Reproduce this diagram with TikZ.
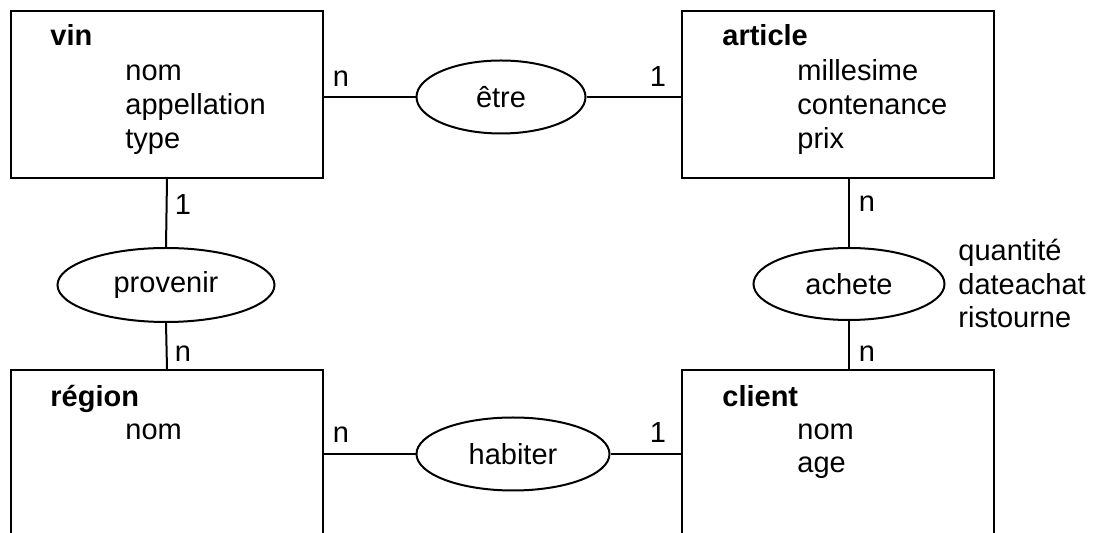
\documentclass[tikz,border=0pt]{standalone}
\usepackage{fontspec}
\setmainfont{Liberation Sans}
\usetikzlibrary{shapes.geometric}
\begin{document}
\begin{tikzpicture}[x=0.5pt,y=-0.5pt,
  font=\fontsize{14.5pt}{17pt}\selectfont,
  entity/.style={draw, line width=1pt, rectangle, inner sep=0pt, anchor=north west, minimum width=156pt},
  rel/.style={draw, ellipse, line width=1pt, inner sep=0pt},
  card/.style={anchor=base, inner sep=0pt},
  txt/.style={anchor=base west, inner sep=0pt},
  link/.style={line width=1pt}]
\path[clip] (0,0) rectangle (1093,533);
% entities
\node[entity, minimum height=83.5pt] (vin) at (10,10) {};
\node[entity, minimum height=83.5pt] (article) at (681,10) {};
\node[entity, minimum height=110pt] (region) at (10,369) {};
\node[entity, minimum height=110pt] (client) at (681,369) {};
% entity texts
\node[txt] (t1) at (50,46) {\textbf{vin}};
\node[txt] (t2) at (125,81) {nom};
\node[txt] (t3) at (125,115) {appellation};
\node[txt] (t4) at (125,149) {type};
\node[txt] (t5) at (722,46) {\textbf{article}};
\node[txt] (t6) at (797,81) {millesime};
\node[txt] (t7) at (797,115) {contenance};
\node[txt] (t8) at (797,149) {prix};
\node[txt] (t9) at (50,407) {\textbf{région}};
\node[txt] (t10) at (125,440) {nom};
\node[txt] (t11) at (722,407) {\textbf{client}};
\node[txt] (t12) at (797,440) {nom};
\node[txt] (t13) at (797,473) {age};
% relations
\node[rel, minimum width=84.5pt, minimum height=36.5pt] (etre) at (501,97) {être};
\node[rel, minimum width=96.5pt, minimum height=36.5pt] (habiter) at (513,454) {habiter};
\node[rel, minimum width=108.5pt, minimum height=37pt] (provenir) at (166,285) {provenir};
\node[rel, minimum width=95.5pt, minimum height=36pt] (achete) at (849,284) {achete};
% relation attributes
\node[txt] (a1) at (958,261) {quantité};
\node[txt] (a2) at (958,295) {dateachat};
\node[txt] (a3) at (958,328) {ristourne};
% connectors
\draw[link] (etre.west) -- (etre.west -| vin.east);
\draw[link] (etre.east) -- (etre.east -| article.west);
\draw[link] (habiter.west) -- (habiter.west -| region.east);
\draw[link] (habiter.east) -- (habiter.east -| client.west);
\draw[link] (vin.south) -- (provenir.north);
\draw[link] (provenir.south) -- (region.north);
\draw[link] (achete.north) -- (achete.north |- article.south);
\draw[link] (achete.south) -- (achete.south |- client.north);
% cardinalities
\node[card] (c1) at (341,87) {n};
\node[card] (c2) at (658,87) {1};
\node[card] (c3) at (341,443) {n};
\node[card] (c4) at (658,443) {1};
\node[card] (c5) at (183,215) {1};
\node[card] (c6) at (183,362) {n};
\node[card] (c7) at (867,212) {n};
\node[card] (c8) at (867,362) {n};
\end{tikzpicture}
\end{document}
